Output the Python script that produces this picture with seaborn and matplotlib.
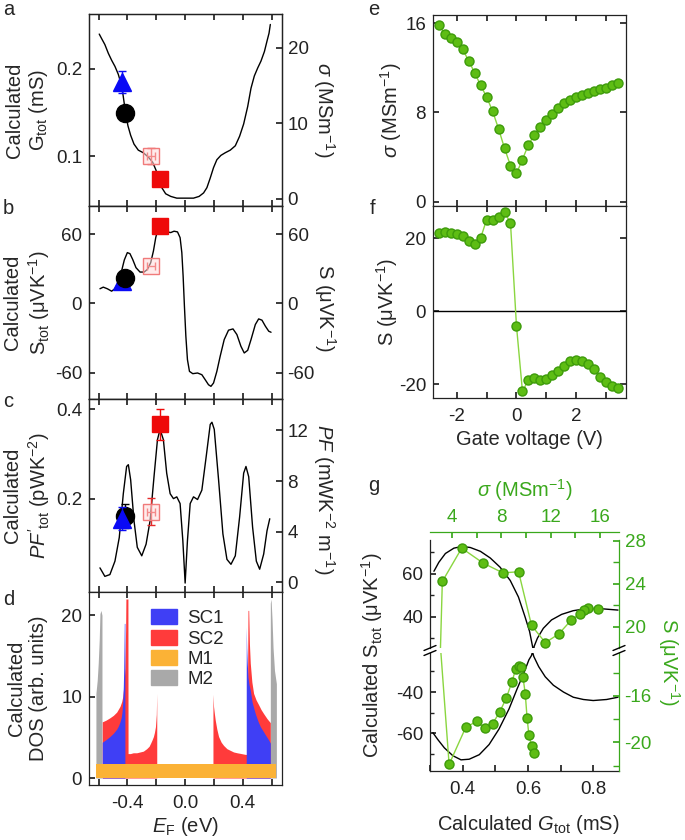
import matplotlib
matplotlib.use('Agg')
import matplotlib.pyplot as plt
import seaborn as sns
from matplotlib.lines import Line2D
from matplotlib.patches import Patch

# ---------------- data ----------------
# panel a : calculated G_tot vs E_F
ef_a = [-0.596, -0.580, -0.557, -0.533, -0.510, -0.487, -0.464, -0.448, -0.434, -0.422,
        -0.410, -0.397, -0.378, -0.355, -0.325, -0.290, -0.255, -0.225, -0.202, -0.183,
        -0.162, -0.135, -0.100, -0.058, 0.000, 0.058, 0.097, 0.128, 0.151, 0.174,
        0.197, 0.220, 0.248, 0.278, 0.313, 0.348, 0.378, 0.406, 0.434, 0.457,
        0.480, 0.503, 0.526, 0.550, 0.568, 0.582, 0.591]
g_a = [0.240, 0.235, 0.228, 0.218, 0.210, 0.203, 0.194, 0.185, 0.174, 0.160,
       0.147, 0.135, 0.124, 0.114, 0.107, 0.104, 0.099, 0.093, 0.084, 0.072,
       0.064, 0.057, 0.054, 0.052, 0.052, 0.052, 0.054, 0.058, 0.064, 0.075,
       0.087, 0.096, 0.101, 0.104, 0.107, 0.112, 0.123, 0.137, 0.157, 0.178,
       0.192, 0.201, 0.209, 0.220, 0.232, 0.241, 0.251]

# panel b : calculated S_tot vs E_F
ef_b = [-0.591, -0.568, -0.540, -0.510, -0.487, -0.464, -0.441, -0.422, -0.401, -0.383,
        -0.364, -0.341, -0.313, -0.285, -0.262, -0.239, -0.220, -0.204, -0.188, -0.169,
        -0.146, -0.123, -0.100, -0.077, -0.053, -0.035, -0.023, -0.014, -0.005, 0.005,
        0.016, 0.030, 0.053, 0.086, 0.116, 0.139, 0.162, 0.179, 0.197, 0.220,
        0.243, 0.271, 0.301, 0.332, 0.359, 0.387, 0.410, 0.434, 0.457, 0.487,
        0.510, 0.533, 0.557, 0.580, 0.596]
s_b = [12.8, 14.2, 12.8, 10.7, 12.8, 18.0, 28.2, 37.8, 44.2, 43.3,
       38.3, 31.1, 27.3, 27.3, 29.6, 35.4, 45.6, 57.2, 65.1, 67.4,
       65.1, 62.2, 61.6, 62.8, 62.2, 57.2, 44.2, 23.8, -2.3, -28.5,
       -48.8, -59.0, -61.0, -60.4, -61.9, -66.2, -70.6, -72.0, -69.1, -59.0,
       -45.9, -31.4, -23.2, -22.1, -27.0, -37.2, -43.0, -40.7, -31.4, -18.3,
       -13.4, -14.5, -19.8, -24.1, -25.0]

# panel c : calculated PF'_tot vs E_F
ef_c = [-0.591, -0.557, -0.522, -0.487, -0.457, -0.429, -0.406, -0.394, -0.378, -0.355,
        -0.332, -0.301, -0.271, -0.243, -0.216, -0.192, -0.174, -0.151, -0.128, -0.104,
        -0.081, -0.058, -0.035, -0.016, 0.000, 0.016, 0.035, 0.058, 0.086, 0.116,
        0.146, 0.174, 0.186, 0.202, 0.232, 0.262, 0.290, 0.318, 0.348, 0.378,
        0.406, 0.422, 0.441, 0.468, 0.494, 0.517, 0.545, 0.568, 0.587]
pf_c = [0.045, 0.026, 0.030, 0.060, 0.113, 0.211, 0.272, 0.276, 0.242, 0.151,
        0.091, 0.072, 0.098, 0.151, 0.249, 0.332, 0.355, 0.332, 0.257, 0.211,
        0.200, 0.204, 0.189, 0.106, 0.011, 0.106, 0.189, 0.204, 0.198, 0.219,
        0.294, 0.366, 0.371, 0.355, 0.242, 0.121, 0.064, 0.053, 0.072, 0.159,
        0.257, 0.272, 0.249, 0.136, 0.060, 0.042, 0.076, 0.128, 0.155]

# measured points (triangle, circle, filled square, open square)
mk_ef = [-0.440, -0.417, -0.174, -0.237]
mk_ef_err = [0.0, 0.0, 0.0, 0.030]
mk_g = [0.185, 0.149, 0.074, 0.100]
mk_g_err = [0.0125, 0.0, 0.0, 0.009]
mk_s = [19.5, 21.8, 67.4, 32.5]
mk_s_err = [0.0, 0.0, 0.0, 0.0]
mk_pf = [0.155, 0.162, 0.366, 0.171]
mk_pf_err = [0.026, 0.027, 0.034, 0.031]

# panel d : DOS
m1_e = [-0.619, 0.633]
m1_dos = [1.72, 1.72]
m2_left_e = [-0.619, -0.610, -0.603, -0.596, -0.591, -0.584, -0.577]
m2_left_dos = [10.4, 12.0, 14.1, 17.0, 20.2, 20.6, 20.0]
m2_right_e = [0.591, 0.596, 0.603, 0.610, 0.620, 0.633]
m2_right_dos = [21.5, 22.0, 19.5, 16.0, 13.2, 11.6]
sc2_left_e = [-0.575, -0.550, -0.522, -0.498, -0.475, -0.452, -0.440, -0.433, -0.424, -0.418,
              -0.413, -0.411, -0.397, -0.396, -0.380, -0.360, -0.336, -0.313, -0.290, -0.267,
              -0.250, -0.239, -0.229, -0.220, -0.213, -0.206, -0.200, -0.197]
sc2_left_dos = [6.9, 7.1, 7.4, 7.7, 8.1, 8.8, 9.4, 10.0, 11.5, 13.5,
                18.2, 22.0, 22.0, 3.0, 3.0, 3.1, 3.1, 3.2, 3.3, 3.6,
                3.9, 4.3, 4.7, 5.1, 5.6, 6.3, 7.8, 10.4]
sc2_right_e = [0.193, 0.197, 0.203, 0.209, 0.220, 0.232, 0.250, 0.267, 0.290, 0.313,
               0.336, 0.360, 0.390, 0.418, 0.430, 0.436, 0.441, 0.446, 0.452, 0.463,
               0.475, 0.492, 0.510, 0.527, 0.545, 0.568, 0.591]
sc2_right_dos = [10.3, 8.8, 7.9, 7.1, 6.0, 5.1, 4.4, 4.0, 3.6, 3.4,
                 3.2, 3.1, 3.0, 2.9, 2.9, 20.6, 20.6, 16.5, 14.1, 11.8,
                 10.4, 9.6, 9.0, 8.4, 7.9, 7.3, 6.8]
sc1_left_e = [-0.575, -0.550, -0.522, -0.498, -0.475, -0.463, -0.452, -0.444, -0.438, -0.433,
              -0.429, -0.426, -0.424, -0.422, -0.418]
sc1_left_dos = [4.4, 4.7, 5.1, 5.5, 6.0, 6.4, 6.9, 7.4, 8.1, 9.3,
                11.2, 13.5, 16.1, 19.0, 19.0]
sc1_right_e = [0.424, 0.427, 0.431, 0.436, 0.443, 0.452, 0.465, 0.487, 0.505, 0.522,
               0.540, 0.557, 0.575, 0.591]
sc1_right_dos = [18.6, 16.0, 14.1, 12.4, 11.5, 10.8, 9.3, 7.9, 7.0, 6.3,
                 5.8, 5.3, 4.8, 4.3]

# panels e, f : measured vs gate voltage
gate_v = [-2.6, -2.4, -2.2, -2.0, -1.8, -1.6, -1.4, -1.2, -1.0, -0.8,
          -0.6, -0.4, -0.2, 0.0, 0.2, 0.4, 0.6, 0.8, 1.0, 1.2,
          1.4, 1.6, 1.8, 2.0, 2.2, 2.4, 2.6, 2.8, 3.0, 3.2, 3.4]
sigma_meas = [15.87, 15.06, 14.67, 14.37, 13.67, 12.65, 11.57, 10.45, 9.40, 8.13,
              6.54, 4.79, 3.22, 2.53, 3.77, 5.12, 5.99, 6.69, 7.29, 7.86,
              8.40, 8.86, 9.16, 9.40, 9.61, 9.76, 9.94, 10.09, 10.24, 10.45, 10.66]
seebeck_meas = [21.6, 21.7, 21.5, 21.2, 20.6, 19.3, 18.5, 20.1, 25.1, 25.0,
                25.9, 27.3, 24.2, -4.0, -21.9, -18.7, -18.2, -18.8, -18.4, -17.4,
                -16.2, -14.8, -13.7, -13.4, -13.5, -14.4, -15.8, -17.9, -19.4, -20.3, -20.9]

# panel g : calculated S_tot vs G_tot (upper and lower branches)
gu_g = [0.314, 0.329, 0.349, 0.375, 0.400, 0.425, 0.456, 0.486, 0.516, 0.547,
        0.572, 0.592, 0.606, 0.616, 0.618, 0.620, 0.630, 0.648, 0.673, 0.704,
        0.739, 0.780, 0.820, 0.851, 0.876]
gu_s = [61.2, 65.4, 69.5, 72.0, 72.8, 72.3, 70.5, 67.4, 63.1, 56.9,
        49.2, 40.0, 33.1, 25.4, 23.5, 26.2, 30.0, 34.6, 38.5, 41.1,
        42.8, 43.8, 43.8, 43.4, 43.1]
gl_g = [0.309, 0.324, 0.344, 0.370, 0.395, 0.420, 0.451, 0.481, 0.511, 0.542,
        0.567, 0.587, 0.603, 0.611, 0.614, 0.618, 0.633, 0.653, 0.678, 0.709,
        0.739, 0.770, 0.800, 0.841, 0.876]
gl_s = [-59.7, -63.0, -67.0, -70.8, -72.8, -72.5, -70.3, -65.4, -58.0, -48.2,
        -38.4, -31.0, -24.4, -22.3, -20.5, -22.8, -27.7, -32.6, -36.7, -40.0,
        -42.5, -43.6, -44.1, -43.6, -42.5]

ef_ticks = [-0.6, -0.4, -0.2, 0.0, 0.2, 0.4, 0.6]
ef_ticklabels = ['', '-0.4', '', '0.0', '', '0.4', '']

# ---------------- style ----------------
sns.set_theme(style='ticks')
plt.rcParams['font.family'] = ['Liberation Sans', 'DejaVu Sans']
plt.rcParams['font.size'] = 14
plt.rcParams['mathtext.fontset'] = 'custom'
plt.rcParams['mathtext.rm'] = 'Liberation Sans'
plt.rcParams['mathtext.it'] = 'Liberation Sans:italic'
plt.rcParams['mathtext.bf'] = 'Liberation Sans:bold'
plt.rcParams['axes.unicode_minus'] = False
plt.rcParams['axes.edgecolor'] = '#222222'
plt.rcParams['axes.linewidth'] = 0.9
plt.rcParams['xtick.color'] = '#222222'
plt.rcParams['ytick.color'] = '#222222'
plt.rcParams['xtick.labelsize'] = 13.5
plt.rcParams['ytick.labelsize'] = 13.5
plt.rcParams['axes.labelsize'] = 14.5

LABEL_FS = 14.5
GREEN_TXT = '#3aa81c'
GREEN_FILL = '#5ebd14'
GREEN_EDGE = '#3d9b0a'
GREEN_LINE = '#8ad640'

W, H = 685, 840


def rect(x0, y0, x1, y1):
    return [x0 / W, 1 - y1 / H, (x1 - x0) / W, (y1 - y0) / H]


def fpos(x, y):
    return x / W, 1 - y / H


fig = plt.figure(figsize=(6.85, 8.4), dpi=100)


def ef_axis(ax, labels=False):
    ax.set_xlim(-0.667, 0.672)
    ax.set_xticks(ef_ticks)
    ax.set_xticklabels(ef_ticklabels)
    ax.tick_params(axis='x', top=True, bottom=True, direction='in', length=4,
                   labelbottom=labels, pad=7)
    ax.tick_params(axis='y', direction='in', length=4, pad=5)


def right_twin(ax, lim, ticks, label, xcoord, ycoord=0.5):
    ax2 = ax.twinx()
    ax2.set_ylim(lim)
    ax2.set_yticks(ticks)
    ax2.tick_params(axis='y', direction='in', length=4, pad=4)
    ax2.set_ylabel(label, rotation=270, va='center', ha='center')
    ax2.yaxis.set_label_coords(xcoord, ycoord)
    return ax2


def draw_markers(ax, yvals, yerrs, circle_on_top):
    z_tri, z_cir = (4, 5) if circle_on_top else (5, 4)
    ax.errorbar(mk_ef[0], yvals[0], yerr=yerrs[0] or None, fmt='^', color='#0a0af5',
                ms=13, capsize=3, elinewidth=1, zorder=z_tri)
    ax.errorbar(mk_ef[1], yvals[1], yerr=yerrs[1] or None, fmt='o', color='black',
                ms=13, capsize=3, elinewidth=1, zorder=z_cir)
    ax.errorbar(mk_ef[3], yvals[3], xerr=mk_ef_err[3], yerr=yerrs[3] or None, fmt='s',
                mfc=(1.0, 0.86, 0.86, 0.55), mec='#f07a7a', mew=1.0, ecolor='#e52a2a',
                ms=11.5, capsize=3, elinewidth=1, zorder=4)
    ax.errorbar(mk_ef[2], yvals[2], yerr=yerrs[2] or None, fmt='s', color='#ee0a0a',
                ms=12, capsize=3, elinewidth=1, zorder=6)


# ---------------- panel a ----------------
ax_a = fig.add_axes(rect(89, 14, 282, 206))
sns.lineplot(x=ef_a, y=g_a, ax=ax_a, color='black', lw=1, sort=False, estimator=None)
draw_markers(ax_a, mk_g, mk_g_err, circle_on_top=True)
ax_a.set_ylim(0.043, 0.263)
ax_a.set_yticks([0.1, 0.2])
ef_axis(ax_a)
ax_a.set_ylabel('Calculated\nG$_{\\rm tot}$ (mS)', va='center', ha='center')
ax_a.yaxis.set_label_coords(-0.32, 0.5)
right_twin(ax_a, (-0.97, 24.5), [0, 10, 20], '$\\sigma$ (MSm$^{-1}$)', 1.215)

# ---------------- panel b ----------------
ax_b = fig.add_axes(rect(89, 206, 282, 399))
sns.lineplot(x=ef_b, y=s_b, ax=ax_b, color='black', lw=1, sort=False, estimator=None)
draw_markers(ax_b, mk_s, mk_s_err, circle_on_top=True)
ax_b.set_ylim(-83, 84.7)
ax_b.set_yticks([-60, 0, 60])
ef_axis(ax_b)
ax_b.set_ylabel('Calculated\nS$_{\\rm tot}$ (μVK$^{-1}$)', va='center', ha='center')
ax_b.yaxis.set_label_coords(-0.32, 0.5)
right_twin(ax_b, (-83, 84.7), [-60, 0, 60], 'S (μVK$^{-1}$)', 1.225, 0.47)

# ---------------- panel c ----------------
ax_c = fig.add_axes(rect(89, 399, 282, 592))
sns.lineplot(x=ef_c, y=pf_c, ax=ax_c, color='black', lw=1, sort=False, estimator=None)
draw_markers(ax_c, mk_pf, mk_pf_err, circle_on_top=False)
ax_c.set_ylim(-0.009, 0.423)
ax_c.set_yticks([0.2, 0.4])
ef_axis(ax_c)
ax_c.set_ylabel("Calculated\n$PF'_{\\rm tot}$ (pWK$^{-2}$)", va='center', ha='center')
ax_c.yaxis.set_label_coords(-0.32, 0.5)
right_twin(ax_c, (-0.77, 14.48), [0, 4, 8, 12], '$PF$ (mWK$^{-2}$ m$^{-1}$)', 1.215, 0.48)

# ---------------- panel d ----------------
ax_d = fig.add_axes(rect(89, 592, 282, 785))
c_m2, c_sc2, c_sc1, c_m1 = '#a9a9a9', '#ff3b3b', '#3f3ff5', '#fbb236'
ax_d.fill_between(m2_left_e, 0, m2_left_dos, color=c_m2, lw=0)
ax_d.fill_between(m2_right_e, 0, m2_right_dos, color=c_m2, lw=0)
ax_d.fill_between(sc2_left_e, 0, sc2_left_dos, color=c_sc2, lw=0)
ax_d.fill_between(sc2_right_e, 0, sc2_right_dos, color=c_sc2, lw=0)
ax_d.fill_between(sc1_left_e, 0, sc1_left_dos, color=c_sc1, lw=0)
ax_d.fill_between(sc1_right_e, 0, sc1_right_dos, color=c_sc1, lw=0)
ax_d.fill_between(m1_e, 0, m1_dos, color=c_m1, lw=0)
ax_d.set_ylim(-0.86, 22.86)
ax_d.set_yticks([0, 10, 20])
ef_axis(ax_d, labels=True)
ax_d.set_ylabel('Calculated\nDOS (arb. units)', va='center', ha='center')
ax_d.yaxis.set_label_coords(-0.32, 0.5)
ax_d.set_xlabel('$E_{\\rm F}$ (eV)', labelpad=2)
handles = [Patch(color=c) for c in (c_sc1, c_sc2, c_m1, c_m2)]
ax_d.legend(handles, ['SC1', 'SC2', 'M1', 'M2'], loc='upper left',
            bbox_to_anchor=(0.32, 0.91), frameon=False, borderpad=0, borderaxespad=0,
            handlelength=1.4, handleheight=0.85, handletextpad=0.55, labelspacing=0.12,
            fontsize=13.5)

# ---------------- panels e, f ----------------
def gate_axis(ax, labels=False):
    ax.set_xlim(-2.79, 3.66)
    ax.set_xticks([-2, -1, 0, 1, 2, 3])
    ax.set_xticklabels(['-2', '', '0', '', '2', ''])
    ax.tick_params(axis='x', top=True, bottom=True, direction='in', length=4,
                   labelbottom=labels, pad=7)
    ax.tick_params(axis='y', left=True, right=True, direction='in', length=4, pad=5)


green_kw = dict(color=GREEN_LINE, lw=1, marker='o', ms=6.5, mfc=GREEN_FILL,
                mec=GREEN_EDGE, mew=1, sort=False, estimator=None)

ax_e = fig.add_axes(rect(433, 15, 626, 206))
sns.lineplot(x=gate_v, y=sigma_meas, ax=ax_e, **green_kw)
ax_e.set_ylim(-0.4, 16.75)
ax_e.set_yticks([0, 8, 16])
gate_axis(ax_e)
ax_e.set_ylabel('$\\sigma$ (MSm$^{-1}$)', va='center', ha='center')
ax_e.yaxis.set_label_coords(-0.215, 0.5)

ax_f = fig.add_axes(rect(433, 206, 626, 398))
ax_f.axhline(0, color='black', lw=1, zorder=1)
sns.lineplot(x=gate_v, y=seebeck_meas, ax=ax_f, **green_kw)
ax_f.set_ylim(-23.7, 28.9)
ax_f.set_yticks([-20, 0, 20])
gate_axis(ax_f, labels=True)
ax_f.set_ylabel('S (μVK$^{-1}$)', va='center', ha='center')
ax_f.yaxis.set_label_coords(-0.24, 0.5)
ax_f.set_xlabel('Gate voltage (V)', labelpad=4)

# ---------------- panel g ----------------
ax_gu = fig.add_axes(rect(430, 540, 619, 648))
ax_gl = fig.add_axes(rect(430, 653, 619, 771))
for ax, gx, gy in ((ax_gu, gu_g, gu_s), (ax_gl, gl_g, gl_s)):
    sns.lineplot(x=gx, y=gy, ax=ax, color='black', lw=1, sort=False, estimator=None)
    ax.set_xlim(0.302, 0.879)
    ax.spines['right'].set_visible(False)
    ax.tick_params(axis='y', direction='in', length=4, pad=5)
ax_gu.set_ylim(25.4, 75.8)
ax_gu.set_yticks([40, 60])
ax_gu.set_yticks([30, 50, 70], minor=True)
ax_gu.spines['bottom'].set_visible(False)
ax_gu.spines['top'].set_visible(False)
ax_gu.tick_params(axis='x', bottom=False, labelbottom=False)
ax_gl.set_ylim(-78.2, -21.1)
ax_gl.set_yticks([-60, -40])
ax_gl.set_yticks([-70, -50, -30], minor=True)
ax_gl.spines['top'].set_visible(False)
ax_gl.set_xticks([0.3, 0.4, 0.5, 0.6, 0.7, 0.8])
ax_gl.set_xticklabels(['', '0.4', '', '0.6', '', '0.8'])
ax_gl.tick_params(axis='x', direction='in', length=4, pad=7)
for ax in (ax_gu, ax_gl):
    ax.tick_params(axis='y', which='minor', direction='in', length=3, left=True)

gg_u = fig.add_axes(rect(430, 540, 619, 648), facecolor='none')
gg_l = fig.add_axes(rect(430, 653, 619, 771), facecolor='none')
for ax in (gg_u, gg_l):
    sns.lineplot(x=sigma_meas, y=seebeck_meas, ax=ax, **green_kw)
    ax.set_xlim(2.22, 17.54)
    ax.yaxis.tick_right()
    ax.spines['left'].set_visible(False)
    ax.spines['bottom'].set_visible(False)
    ax.spines['right'].set_color(GREEN_TXT)
    ax.tick_params(axis='y', which='both', direction='in', length=4, pad=4,
                   color=GREEN_TXT, labelcolor=GREEN_TXT, left=False, right=True)
gg_u.set_ylim(18.0, 28.06)
gg_u.set_yticks([20, 24, 28])
gg_u.set_yticks([22, 26], minor=True)
gg_u.xaxis.tick_top()
gg_u.set_xticks([4, 6, 8, 10, 12, 14, 16])
gg_u.set_xticklabels(['4', '', '8', '', '12', '', '16'])
gg_u.spines['top'].set_color(GREEN_TXT)
gg_u.spines['top'].set_position(('outward', 6))
gg_u.tick_params(axis='x', direction='in', length=4, pad=4, color=GREEN_TXT,
                 labelcolor=GREEN_TXT, top=True, bottom=False)
gg_l.set_ylim(-22.47, -12.3)
gg_l.set_yticks([-20, -16])
gg_l.set_yticks([-22, -18, -14], minor=True)
gg_l.spines['top'].set_visible(False)
gg_l.tick_params(axis='x', bottom=False, top=False, labelbottom=False)

# axis break marks
for xb in (430, 619):
    for yb in (648, 653):
        x0, y0 = fpos(xb - 6, yb + 2.5)
        x1, y1 = fpos(xb + 6, yb - 2.5)
        fig.add_artist(Line2D([x0, x1], [y0, y1], color='black', lw=1))

fig.text(*fpos(372, 655), 'Calculated S$_{\\rm tot}$ (μVK$^{-1}$)', rotation=90,
         ha='center', va='center', fontsize=LABEL_FS)
fig.text(*fpos(669, 662), 'S (μVK$^{-1}$)', rotation=270, ha='center', va='center',
         fontsize=LABEL_FS, color=GREEN_TXT)
fig.text(*fpos(525, 490), '$\\sigma$ (MSm$^{-1}$)', ha='center', va='center',
         fontsize=LABEL_FS, color=GREEN_TXT)
fig.text(*fpos(528, 825), 'Calculated $G$$_{\\rm tot}$ (mS)', ha='center', va='center',
         fontsize=LABEL_FS)

# panel letters
for letter, (x, y) in zip('abcdefg', [(3, 0), (3, 199), (3, 392), (3, 590),
                                       (368, 0), (370, 199), (368, 476)]):
    fig.text(*fpos(x, y), letter, ha='left', va='top', fontsize=14.5)

fig.savefig('out.png', dpi=100)
